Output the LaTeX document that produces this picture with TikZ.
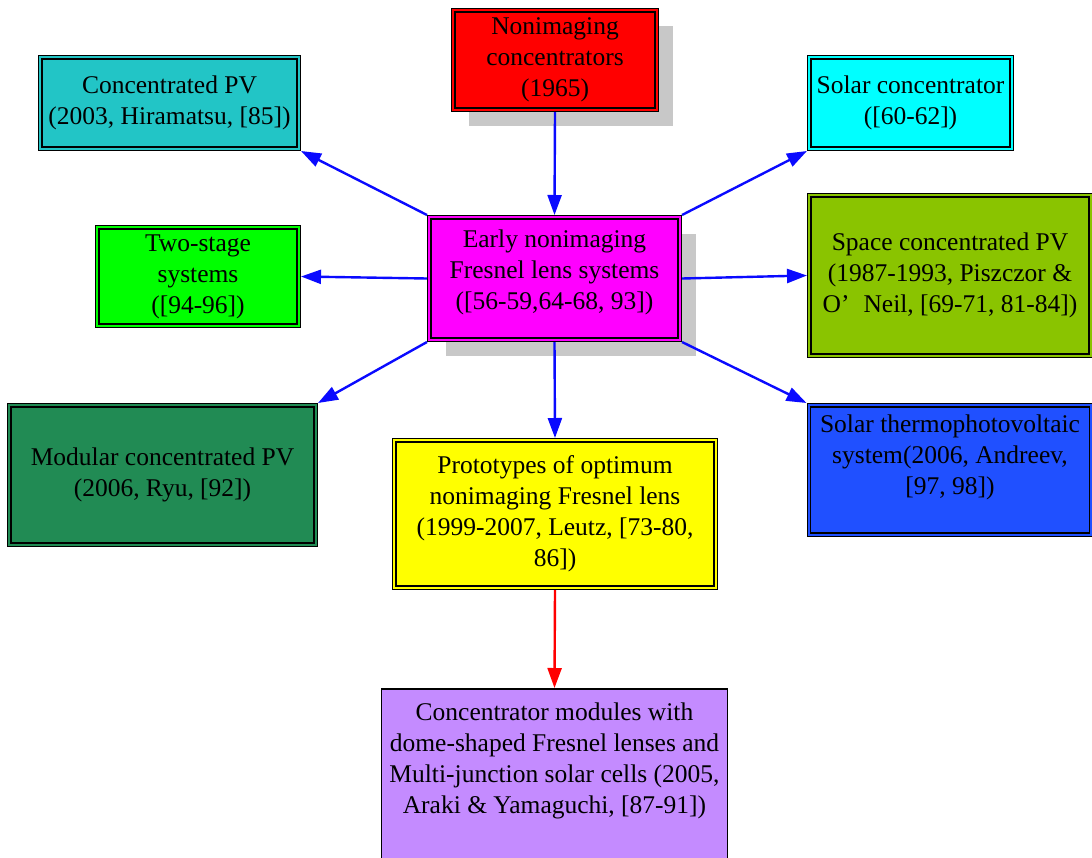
\documentclass[tikz,border=0pt]{standalone}
\usepackage{fontspec}
\setmainfont{Liberation Serif}
\usetikzlibrary{arrows.meta,shadows}
\definecolor{cpvc}{HTML}{22C5C6}
\definecolor{solarcc}{HTML}{00FFFF}
\definecolor{twoc}{HTML}{00FF00}
\definecolor{earlyc}{HTML}{FF00FF}
\definecolor{spacec}{HTML}{8AC400}
\definecolor{modc}{HTML}{218B54}
\definecolor{protoc}{HTML}{FFFF00}
\definecolor{thermoc}{HTML}{2050FF}
\definecolor{bottomc}{HTML}{C48BFF}
\definecolor{nonimc}{HTML}{FF0000}
\definecolor{shadowc}{HTML}{C8C8C8}
\definecolor{arrblue}{HTML}{0A0AFF}
\begin{document}
\begin{tikzpicture}[x=1pt,y=-1pt,
  txt/.style={font=\fontsize{25.5}{31}\selectfont},
  box/.style={txt, draw=black, line width=1.3pt, double=#1, double distance=2pt,
    fill=#1, align=center, inner sep=1pt, outer sep=2.3pt},
  shad/.style={drop shadow={shadow xshift=#1, shadow yshift=-#1, fill=shadowc, opacity=1, draw=none}},
  arr/.style={draw=arrblue, line width=2.4pt, -{Triangle[length=20pt,width=14pt]}},
  arrred/.style={arr, draw=red}
]
\useasboundingbox (0,0) rectangle (1092,857);

\node[box=nonimc, shad=16pt, minimum width=203.4pt, minimum height=99.4pt] (nonim) at (555,60)
  {Nonimaging\\concentrators\\(1965)};
\node[box=earlyc, shad=16.5pt, minimum width=250.4pt, minimum height=122.4pt] (early) at (554.5,278.5)
  {Early nonimaging\\Fresnel lens systems\\([56-59,64-68, 93])\\[-14pt]\mbox{}};
\node[box=cpvc, minimum width=258.4pt, minimum height=91.4pt] (cpv) at (169.5,103)
  {Concentrated PV\\(2003, Hiramatsu, [85])};
\node[box=solarcc, minimum width=202.4pt, minimum height=91.4pt] (solarc) at (910.5,103)
  {Solar concentrator\\([60-62])};
\node[box=twoc, minimum width=201.4pt, minimum height=98.4pt] (two) at (198,276.5)
  {Two-stage\\systems\\([94-96])};
\node[box=spacec, minimum width=281.4pt, minimum height=160.4pt] (space) at (950,275.5)
  {Space concentrated PV\\(1987-1993, Piszczor \&\\O’\hspace{14pt}Neil, [69-71, 81-84])};
\node[box=modc, minimum width=306.4pt, minimum height=139.4pt] (modular) at (162.5,475)
  {Modular concentrated PV\\(2006, Ryu, [92])};
\node[box=protoc, minimum width=321.4pt, minimum height=147.4pt] (proto) at (555,514)
  {Prototypes of optimum\\nonimaging Fresnel lens\\(1999-2007, Leutz, [73-80,\\86])};
\node[box=thermoc, minimum width=282.4pt, minimum height=129.4pt] (thermo) at (950,470)
  {Solar thermophotovoltaic\\system(2006, Andreev,\\{[97, 98])}\\\mbox{}};
\node[draw=black, line width=1.5pt, fill=bottomc, inner sep=0pt, anchor=north, outer sep=0.75pt] (bottom) at (554.5,688)
  {\begin{minipage}[t][190pt][t]{346pt}\centering\fontsize{25.5}{31}\selectfont
   \vspace*{14pt}Concentrator modules with\\dome-shaped Fresnel lenses and\\Multi-junction solar cells (2005,\\Araki \& Yamaguchi, [87-91])\end{minipage}};

\draw[arr] (nonim.south) -- (early.north);
\draw[arr] (early.north west) -- (cpv.south east);
\draw[arr] (early.north east) -- (solarc.south west);
\draw[arr] (early.west) -- (two.east);
\draw[arr] (early.east) -- (space.west);
\draw[arr] (early.south west) -- (modular.north east);
\draw[arr] (early.south east) -- (thermo.north west);
\draw[arr] (early.south) -- (proto.north);
\draw[arrred] (proto.south) -- (bottom.north);
\end{tikzpicture}
\end{document}
